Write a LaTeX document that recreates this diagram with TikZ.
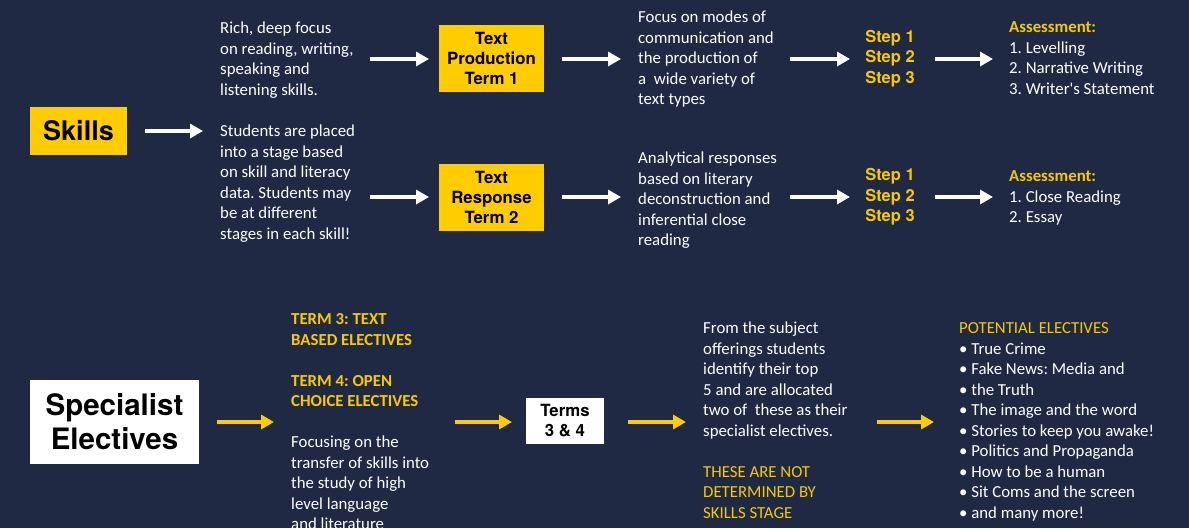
\documentclass[tikz,border=0pt]{standalone}
\usepackage{fontspec}
\setmainfont{Carlito}
\newfontfamily\plainq{Carlito}[Ligatures=TeXOff]
\newfontfamily\headfont{TeX Gyre Heros}
\usetikzlibrary{arrows.meta}
\definecolor{bg}{RGB}{31,41,68}
\definecolor{gold}{RGB}{255,204,0}
\definecolor{goldtext}{RGB}{248,200,0}
\frenchspacing
\tikzset{
  body/.style={font=\fontsize{16.8}{20.5}\selectfont, align=left, inner sep=0pt, anchor=north west, text=white},
  ybox/.style={fill=gold, draw=none, inner sep=0pt, text=black, align=center},
  wbox/.style={fill=white, draw=none, inner sep=0pt, text=black, align=center},
  headtxt/.style={font=\headfont\bfseries\fontsize{16.8}{20}\selectfont},
  bigtxt/.style={font=\headfont\bfseries\fontsize{27}{34}\selectfont},
  hugetxt/.style={font=\headfont\bfseries\fontsize{29.5}{34}\selectfont},
  steps/.style={align=center, inner sep=0pt, text=goldtext, font=\headfont\bfseries\fontsize{16.5}{20.5}\selectfont},
  warr/.style={draw=white, line width=4pt, -{Triangle[length=13pt,width=14pt]}},
  yarr/.style={draw=gold, line width=4pt, -{Triangle[length=13pt,width=14pt]}},
}
\newcommand{\hl}[1]{{\color{goldtext}\bfseries #1}}
\newcommand{\hn}[1]{{\color{goldtext}#1}}
\begin{document}
\begin{tikzpicture}[x=1pt,y=-1pt]
\fill[bg] (0,0) rectangle (1189,528);
\useasboundingbox (0,0) rectangle (1189,528);

% ---------- Skills row ----------
\node[ybox, bigtxt, minimum width=97pt, minimum height=48pt] (skills) at (78.5,131) {Skills};

\node[body] (rich) at (220,19.2) {\strut Rich, deep focus\\on reading, writing,\\speaking and\\listening skills.};
\node[body] (students) at (220,122.2) {\strut Students are placed\\into a stage based\\on skill and literacy\\data. Students may\\be at different\\stages in each skill!};

\node[ybox, headtxt, minimum width=105pt, minimum height=67pt] (tp) at (491.5,58.5) {Text\\Production\\Term 1};
\node[ybox, headtxt, minimum width=105pt, minimum height=67pt] (tr) at (491.5,197) {Text\\Response\\Term 2};

\node[body] (focus) at (638,8.2) {\strut Focus on modes of\\communication and\\the production of\\a~ wide variety of\\text types};
\node[body] (analytical) at (638,149.2) {\strut Analytical responses\\based on literary\\deconstruction and\\inferential close\\reading};

\node[steps] (steps1) at (890,58.5) {Step 1\\Step 2\\Step 3};
\node[steps] (steps2) at (890,197) {Step 1\\Step 2\\Step 3};

\node[body] (assess1) at (1009,18.2) {\strut\hl{Assessment:}\\1. Levelling\\2. Narrative Writing\\3. Writer{\plainq '}s Statement};
\node[body] (assess2) at (1009,167.2) {\strut\hl{Assessment:}\\1. Close Reading\\2. Essay};

\coordinate (a1s) at (145,131);  \coordinate (a1e) at (203,131);
\coordinate (a2s) at (370,59);   \coordinate (a2e) at (429,59);
\coordinate (a3s) at (370,197);  \coordinate (a3e) at (429,197);
\coordinate (a4s) at (562,59);   \coordinate (a4e) at (621,59);
\coordinate (a5s) at (562,197);  \coordinate (a5e) at (621,197);
\coordinate (a6s) at (790,59);   \coordinate (a6e) at (850,59);
\coordinate (a7s) at (790,197);  \coordinate (a7e) at (850,197);
\coordinate (a8s) at (935,59);   \coordinate (a8e) at (993,59);
\coordinate (a9s) at (935,197);  \coordinate (a9e) at (993,197);
\foreach \i in {1,...,9} {\draw[warr] (a\i s) -- (a\i e);}

% ---------- Specialist electives row ----------
\node[wbox, hugetxt, minimum width=169pt, minimum height=84pt] (spec) at (114.5,422) {Specialist\\Electives};

\node[body] (terms34txt) at (291,310.2) {\strut\hl{TERM 3: TEXT}\\\hl{BASED ELECTIVES}\\~\\\hl{TERM 4: OPEN}\\\hl{CHOICE ELECTIVES}\\~\\Focusing on the\\transfer of skills into\\the study of high\\level language\\and literature};

\node[wbox, headtxt, minimum width=78pt, minimum height=46pt] (terms) at (565,421) {Terms\\3 \& 4};

\node[body] (from) at (703,319.2) {\strut From the subject\\offerings students\\identify their top\\5 and are allocated\\two of~ these as their\\specialist electives.\\~\\\hn{THESE ARE NOT}\\\hn{DETERMINED BY}\\\hn{SKILLS STAGE}};

\node[body] (potential) at (959,319.2) {\strut\hn{POTENTIAL ELECTIVES}\\
\textbullet\ True Crime\\
\textbullet\ Fake News: Media and\\
\textbullet\ the Truth\\
\textbullet\ The image and the word\\
\textbullet\ Stories to keep you awake!\\
\textbullet\ Politics and Propaganda\\
\textbullet\ How to be a human\\
\textbullet\ Sit Coms and the screen\\
\textbullet\ and many more!};

\coordinate (b1s) at (217,422);  \coordinate (b1e) at (274,422);
\coordinate (b2s) at (455,422);  \coordinate (b2e) at (512,422);
\coordinate (b3s) at (628,422);  \coordinate (b3e) at (686,422);
\coordinate (b4s) at (877,422);  \coordinate (b4e) at (934,422);
\foreach \i in {1,...,4} {\draw[yarr] (b\i s) -- (b\i e);}
\end{tikzpicture}
\end{document}
